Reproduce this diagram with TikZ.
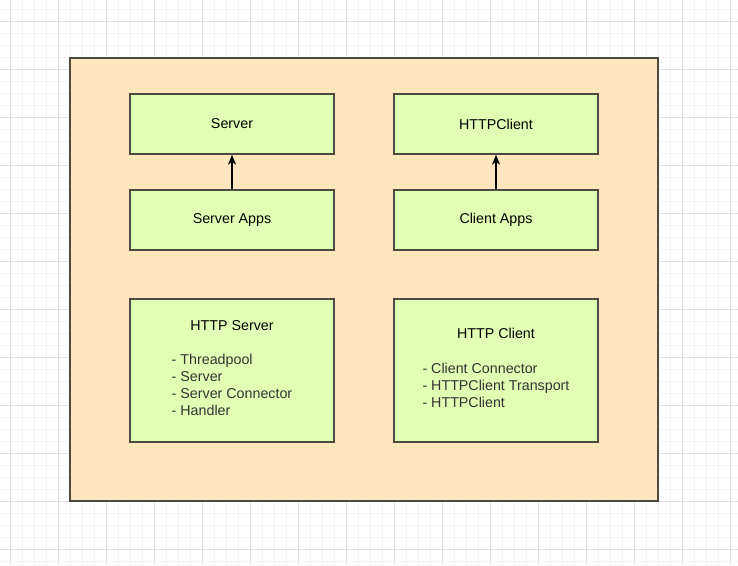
\documentclass[tikz,border=0pt]{standalone}
\usepackage{fontspec}
\setmainfont{Liberation Sans}
\usetikzlibrary{arrows.meta}
\definecolor{outerfill}{HTML}{FFE6BF}
\definecolor{boxfill}{HTML}{E0FFB4}
\definecolor{boxline}{HTML}{4A4A40}
\definecolor{listgray}{HTML}{333333}
\definecolor{minorgrid}{HTML}{F3F3F3}
\definecolor{majorgrid}{HTML}{E2E2E2}

\begin{document}
\begin{tikzpicture}[x=0.75pt,y=-0.75pt,
  every node/.style={font=\fontsize{10.7}{12.75}\selectfont},
  block/.style={draw=boxline, line width=1pt, fill=boxfill,
    minimum width=153pt, minimum height=45pt, inner sep=0pt, align=center},
  bigblock/.style={block, minimum height=107.25pt},
  uses/.style={-{Stealth[length=7.5pt,width=6pt,inset=2pt]}, line width=0.8pt, black}]
\useasboundingbox (0,0) rectangle (738,565);
% background grid
\foreach \i in {0,...,61} {
  \draw[minorgrid, line width=0.75pt] (-1.3+12*\i,0) -- (-1.3+12*\i,565);
}
\foreach \i in {0,...,47} {
  \draw[minorgrid, line width=0.75pt] (0,-2.7+12*\i) -- (738,-2.7+12*\i);
}
\foreach \i in {0,...,15} {
  \draw[majorgrid, line width=0.75pt] (10.7+48*\i,0) -- (10.7+48*\i,565);
}
\foreach \i in {0,...,11} {
  \draw[majorgrid, line width=0.75pt] (0,21.3+48*\i) -- (738,21.3+48*\i);
}
% container
\draw[draw=boxline, line width=1pt, fill=outerfill] (70,58) rectangle (658,501);

\node[block] (server) at (232,124) {Server};
\node[block] (httpclient) at (496,124) {HTTPClient};
\node[block] (serverapps) at (232,220) {Server Apps};
\node[block] (clientapps) at (496,220) {Client Apps};
\node[bigblock] (httpserver) at (232,370.5) {HTTP Server\\[16pt]
  {\color{listgray}\begin{tabular}{@{}l@{}}- Threadpool\\- Server\\- Server Connector\\- Handler\end{tabular}}};
\node[bigblock] (httpclientlib) at (496,370.5) {HTTP Client\\[16pt]
  {\color{listgray}\begin{tabular}{@{}l@{}}- Client Connector\\- HTTPClient Transport\\- HTTPClient\end{tabular}}};

\draw[uses] (serverapps) -- (server);
\draw[uses] (clientapps) -- (httpclient);
\end{tikzpicture}
\end{document}
